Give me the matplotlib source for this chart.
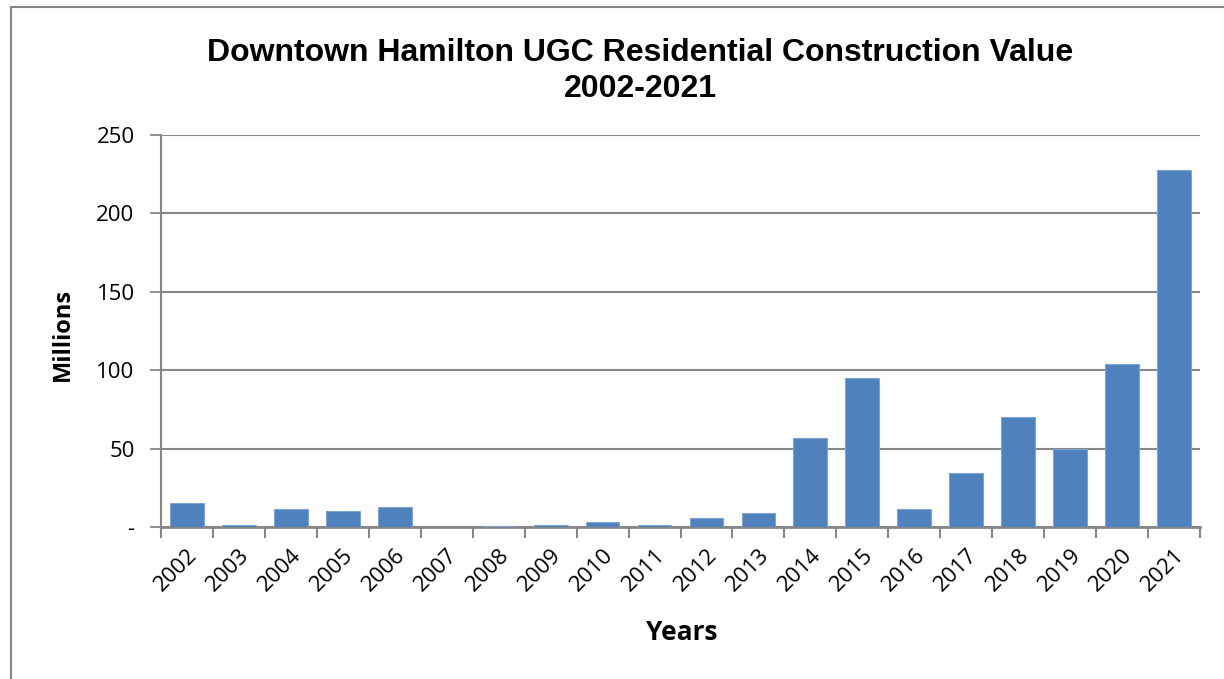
import matplotlib.pyplot as plt
from matplotlib.patches import Rectangle

# data (millions)
years = ['2002', '2003', '2004', '2005', '2006', '2007', '2008', '2009', '2010', '2011',
         '2012', '2013', '2014', '2015', '2016', '2017', '2018', '2019', '2020', '2021']
values = [15.0, 1.5, 11.5, 10.4, 12.8, 0.2, 0.8, 1.4, 3.2, 1.4,
          5.9, 8.7, 56.5, 95.0, 11.5, 34.4, 70.2, 49.7, 104.0, 227.7]
y_ticks = [0, 50, 100, 150, 200, 250]
y_tick_labels = ['-', '50', '100', '150', '200', '250']

W, H = 1224, 679
fig = plt.figure(figsize=(W / 100, H / 100), dpi=100)
ax = fig.add_axes([161 / W, 1 - 527 / H, (1200 - 161) / W, (527 - 135) / H])

# outer chart border
fig.patches.append(Rectangle((11 / W, -0.1), 1.2, 1 - 7 / H + 0.1, transform=fig.transFigure,
                             fill=False, edgecolor='#868686', linewidth=1.5, clip_on=False))

grey = '#878787'
x = list(range(len(years)))
ax.bar(x, values, width=0.65, color='#4f81bd', edgecolor='#7ea3cf', linewidth=0.8, zorder=3)

ax.set_xlim(-0.5, len(years) - 0.5)
ax.set_ylim(0, 250)
ax.set_yticks(y_ticks)
ax.set_yticklabels(y_tick_labels, fontsize=16, family='Open Sans')
ax.yaxis.grid(True, color=grey, linewidth=1.5, zorder=0)
ax.tick_params(axis='y', length=8, width=1.3, color=grey, pad=11)

# categories between ticks
ax.set_xticks([i + 0.5 for i in range(-1, len(years))])
ax.set_xticklabels([])
ax.tick_params(axis='x', which='major', length=8, width=1.5, color=grey)
ax.set_xticks(x, minor=True)
ax.set_xticklabels(years, minor=True, rotation=45, ha='right', rotation_mode='anchor',
                   fontsize=16, family='Open Sans')
ax.tick_params(axis='x', which='minor', length=0, pad=13)

for s in ['top', 'right']:
    ax.spines[s].set_visible(False)
ax.spines['left'].set_color(grey)
ax.spines['left'].set_linewidth(1.5)
ax.spines['bottom'].set_color(grey)
ax.spines['bottom'].set_linewidth(2)

fig.text(640 / W, 1 - 71 / H, 'Downtown Hamilton UGC Residential Construction Value\n2002-2021',
         ha='center', va='center', fontsize=23, fontweight='bold', family='Liberation Sans',
         linespacing=1.3)
fig.text(63 / W, 1 - 334 / H, 'Millions', rotation=90, ha='center', va='center',
         fontsize=17, fontweight='bold', family='Open Sans')
fig.text(682 / W, 1 - 633 / H, 'Years', ha='center', va='center',
         fontsize=19, fontweight='bold', family='Open Sans')

fig.savefig('out.png', dpi=100)
